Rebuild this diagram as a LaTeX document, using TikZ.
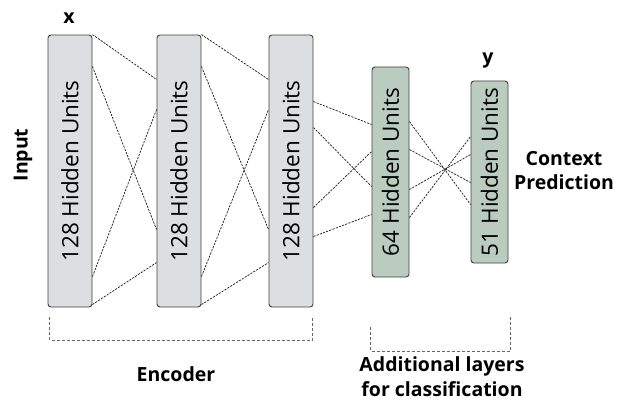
\documentclass[tikz,border=0pt]{standalone}
\usepackage{fontspec}
\setmainfont{Open Sans}
\usetikzlibrary{positioning}
\definecolor{encgray}{HTML}{DCDEE2}
\definecolor{clsgreen}{HTML}{B9CCBF}

\begin{document}
\begin{tikzpicture}[x=1pt, y=-1pt,
    unit/.style={draw=black!75, rounded corners=3pt, line width=0.9pt, inner sep=0pt,
                 font=\fontsize{22.5}{26}\selectfont},
    enc/.style={unit, fill=encgray, minimum width=44pt, minimum height=272pt},
    cls/.style={unit, fill=clsgreen, minimum width=37pt},
    lbl/.style={font=\bfseries\fontsize{19.5}{24}\selectfont, align=center, inner sep=0pt},
    link/.style={black!90, line width=0.7pt, dash pattern=on 2.2pt off 1.2pt},
    brace/.style={black!60, line width=0.6pt, dash pattern=on 3pt off 2pt}]
  \useasboundingbox (0,0) rectangle (620,403);

  % encoder layers
  \node[enc] (b1) at (70,171)  {\rotatebox{90}{128 Hidden Units}};
  \node[enc] (b2) at (179,171) {\rotatebox{90}{128 Hidden Units}};
  \node[enc] (b3) at (291,171) {\rotatebox{90}{128 Hidden Units}};
  % classification layers
  \node[cls, minimum height=210pt] (b4) at (390.5,172) {\rotatebox{90}{64 Hidden Units}};
  \node[cls, minimum height=182pt] (b5) at (489.5,172) {\rotatebox{90}{51 Hidden Units}};

  \foreach \a/\b in {0/45, 32/195, 242/75, 270/228} {
    \draw[link] ([yshift=-\a pt]b1.north east) -- ([yshift=-\b pt]b2.north west);
    \draw[link] ([yshift=-\a pt]b2.north east) -- ([yshift=-\b pt]b3.north west);
  }
  \foreach \a/\b in {67/58, 93/120, 173/85, 202/148}
    \draw[link] ([yshift=-\a pt]b3.north east) -- ([yshift=-\b pt]b4.north west);
  \foreach \a/\b in {55/124, 83/102, 123/74, 151/56}
    \draw[link] ([yshift=-\a pt]b4.north east) -- ([yshift=-\b pt]b5.north west);

  % labels
  \node[lbl] (xin) at (69,18) {x};
  \node[lbl] (yout) at (488,61) {y};
  \node[lbl, rotate=90] (input) at (23,155) {Input};
  \node[lbl, font=\bfseries\fontsize{19.5}{24}\selectfont] (ctx) at (564,171) {Context\\Prediction};

  % groups
  \draw[brace] ([xshift=2pt,yshift=-10pt]b1.south west) -- ++(0,23) -| ([xshift=-1pt,yshift=-10pt]b3.south east);
  \draw[brace] ([xshift=-1pt,yshift=-10pt]b4.south west |- b1.south) ++(0,10) -- ++(0,24) -| ([xshift=2pt,yshift=-10pt]b5.south east |- b1.south);
  \node[lbl] (enclbl) at (176,374) {Encoder};
  \node[lbl, font=\bfseries\fontsize{19.5}{25}\selectfont] (clslbl) at (442,377) {Additional layers\\for classification};
\end{tikzpicture}
\end{document}
